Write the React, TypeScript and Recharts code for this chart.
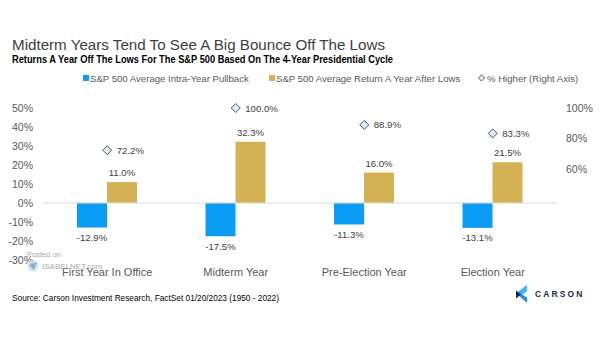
import {
  ComposedChart,
  Bar,
  Scatter,
  XAxis,
  YAxis,
  ReferenceLine,
  LabelList,
  Legend,
} from 'recharts';

const categories = ['First Year In Office', 'Midterm Year', 'Pre-Election Year', 'Election Year'];
const pullback = [-12.9, -17.5, -11.3, -13.1];
const returnAfterLows = [11.0, 32.3, 16.0, 21.5];
const pctHigher = [72.2, 100.0, 88.9, 83.3];
const leftTicks = [-30, -20, -10, 0, 10, 20, 30, 40, 50];
const rightTicks = [60, 80, 100];

const BLUE = '#0b9cf6';
const GOLD = '#d4b254';
const FONT = "'Liberation Sans', Arial, sans-serif";
const NARROW = "'Liberation Sans Narrow', 'Liberation Sans', Arial, sans-serif";

const data = categories.map((name, i) => ({
  name,
  pullback: pullback[i],
  ret: returnAfterLows[i],
  higher: pctHigher[i],
}));

const barLabel = (below: boolean) => (props: any) => {
  const { x, y, width, height, value } = props;
  const top = Math.min(y, y + height);
  const bottom = Math.max(y, y + height);
  return (
    <text
      x={x + width / 2}
      y={below ? bottom + 13.5 : top - 6}
      textAnchor="middle"
      fontSize={9.6}
      fontFamily={FONT}
      fill="#404040"
    >
      {Number(value).toFixed(1)}%
    </text>
  );
};

const Diamond = (props: any) => {
  const { cx, cy, payload } = props;
  const r = 4.5;
  return (
    <g>
      <path
        d={`M${cx},${cy - r} L${cx + r},${cy} L${cx},${cy + r} L${cx - r},${cy} Z`}
        fill="#dcecf6"
        stroke="#4b5567"
        strokeWidth={1}
      />
      <text x={cx + 9.5} y={cy + 3.5} fontSize={9.6} fontFamily={FONT} fill="#404040">
        {payload.higher.toFixed(1)}%
      </text>
    </g>
  );
};

const LegendContent = () => (
  <svg width={605} height={20} style={{ display: 'block' }}>
    <g fontFamily={FONT} fontSize={9.6} fill="#595959">
      <rect x={83} y={7} width={6} height={6} fill={BLUE} />
      <text x={90} y={13.5}>S&amp;P 500 Average Intra-Year Pullback</text>
      <rect x={269} y={7} width={6} height={6} fill={GOLD} />
      <text x={276} y={13.5}>S&amp;P 500 Average Return A Year After Lows</text>
      <path d="M481.5,6.8 L484.7,10 L481.5,13.2 L478.3,10 Z" fill="#dcecf6" stroke="#4b5567" strokeWidth={0.9} />
      <text x={487} y={13.5}>% Higher (Right Axis)</text>
    </g>
  </svg>
);

export default function App() {
  return (
    <div style={{ position: 'absolute', left: 0, top: 0, width: 605, height: 341, background: '#fff' }}>
      <ComposedChart
        width={605}
        height={341}
        data={data}
        margin={{ top: 108, right: 0, left: 0, bottom: 0 }}
        barGap={0}
      >
        <XAxis
          dataKey="name"
          height={81}
          axisLine={false}
          tickLine={false}
          tickSize={0}
          tickMargin={8}
          interval={0}
          tick={{ fontSize: 11, fill: '#595959', fontFamily: FONT }}
        />
        <YAxis
          yAxisId="left"
          domain={[-30, 50]}
          ticks={leftTicks}
          width={43}
          axisLine={false}
          tickLine={false}
          tickSize={0}
          tickMargin={10}
          tickFormatter={(v) => `${v}%`}
          tick={{ fontSize: 10.5, fill: '#595959', fontFamily: FONT }}
        />
        <YAxis
          yAxisId="right"
          orientation="right"
          domain={[0, 100]}
          ticks={rightTicks}
          width={48}
          axisLine={false}
          tickLine={false}
          tickSize={0}
          tickMargin={9}
          tickFormatter={(v) => `${v}%`}
          tick={{ fontSize: 10.5, fill: '#595959', fontFamily: FONT }}
        />
        <Legend
          verticalAlign="middle"
          align="center"
          layout="horizontal"
          wrapperStyle={{ position: 'absolute', top: 68, left: 0, width: 605 }}
          content={LegendContent}
        />
        <ReferenceLine yAxisId="left" y={0} stroke="#d9d9d9" strokeWidth={1} />
        <Bar yAxisId="left" dataKey="pullback" fill={BLUE} barSize={30} isAnimationActive={false}>
          <LabelList dataKey="pullback" content={barLabel(true)} />
        </Bar>
        <Bar yAxisId="left" dataKey="ret" fill={GOLD} barSize={30} isAnimationActive={false}>
          <LabelList dataKey="ret" content={barLabel(false)} />
        </Bar>
        <Scatter yAxisId="right" dataKey="higher" shape={Diamond} isAnimationActive={false} />
      </ComposedChart>

      <svg
        width={605}
        height={341}
        style={{ position: 'absolute', left: 0, top: 0, pointerEvents: 'none' }}
      >
        <text x={12} y={49.5} fontSize={15.5} fontFamily={FONT} fill="#404040" textLength={373} lengthAdjust="spacingAndGlyphs">
          Midterm Years Tend To See A Big Bounce Off The Lows
        </text>
        <text x={12} y={63} fontSize={10.5} fontWeight="bold" fontFamily={NARROW} fill="#000" textLength={381} lengthAdjust="spacingAndGlyphs">
          Returns A Year Off The Lows For The S&amp;P 500 Based On The 4-Year Presidential Cycle
        </text>
        <text x={12} y={301} fontSize={9.5} fontFamily={NARROW} fill="#000" textLength={267} lengthAdjust="spacingAndGlyphs">
          Source: Carson Investment Research, FactSet 01/20/2023 (1950 - 2022)
        </text>

        {/* watermark */}
        <g opacity={0.85}>
          <text x={27} y={257} fontSize={7.5} fontFamily={FONT} fill="#9a9a9a">Posted on</text>
          <circle cx={33} cy={266} r={5.5} fill="#d5dde6" />
          <path d="M29,265 L37,262 L34,270 Z" fill="#5aa7e0" />
          <text x={42} y={269} fontSize={8} fontFamily={FONT} fill="#9a9a9a">ISABELNET.com</text>
        </g>

        {/* logo */}
        <polygon points="527,285 516,293 520.5,296 527,291" fill="#3fb4f6" />
        <polygon points="516,293 527,303 527,297.5 520.5,293.5" fill="#1b8fe6" />
        <polygon points="516,290.5 521,294.5 516,298.5" fill="#1c2541" />
        <text x={535} y={296.5} fontSize={8.5} fontWeight="bold" fontFamily={FONT} fill="#1d2a44" letterSpacing={2.1}>
          CARSON
        </text>
      </svg>
    </div>
  );
}
